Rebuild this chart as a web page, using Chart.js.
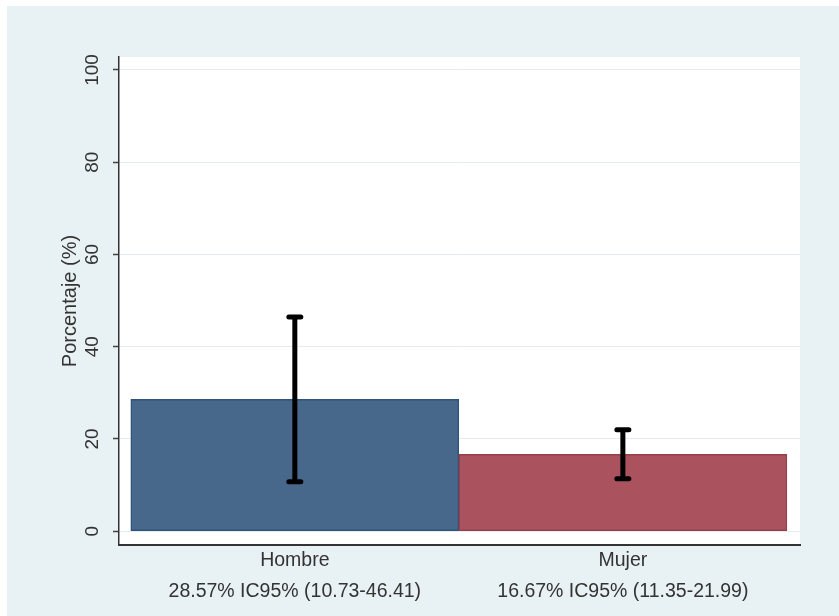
<!DOCTYPE html>
<html>
<head>
<meta charset="utf-8">
<script src="https://cdn.jsdelivr.net/npm/chart.js@4/dist/chart.umd.min.js"></script>
<style>
  html, body { margin: 0; padding: 0; background: #fff; }
  #panel { position: absolute; left: 7px; top: 6px; width: 832px; height: 610px; background: #e8f1f3; }
  canvas { display: block; }
</style>
</head>
<body>
<div id="panel"><canvas id="chart" width="832" height="610"></canvas></div>
<script>
// porcentaje por sexo con su intervalo de confianza al 95%
const categories = ['Hombre', 'Mujer']
const percent = [28.57, 16.67]
const ciLow = [10.73, 11.35]
const ciHigh = [46.41, 21.99]
const yTicks = [0, 20, 40, 60, 80, 100]

const barColors = ['#47678b', '#aa525e']
const barBorders = ['#2f5479', '#993f4c']
const textColor = '#333'

Chart.defaults.font.family = '"Liberation Sans", Arial, sans-serif'
Chart.defaults.color = textColor

const xPos = categories.map((c, i) => i + 0.5)

const statLabel = i => percent[i].toFixed(2) + '% IC95% (' + ciLow[i].toFixed(2) + '-' + ciHigh[i].toFixed(2) + ')'

const plotBackground = {
  id: 'plotBackground',
  beforeDraw(chart) {
    const {ctx, chartArea: a} = chart
    ctx.save()
    ctx.fillStyle = '#fff'
    ctx.fillRect(a.left, a.top, a.right - a.left, a.bottom - a.top)
    ctx.restore()
  }
}

// black error bars with rounded caps
const errorBars = {
  id: 'errorBars',
  afterDatasetsDraw(chart) {
    const {ctx, scales: {x, y}} = chart
    ctx.save()
    ctx.strokeStyle = '#000'
    ctx.lineWidth = 5
    ctx.lineCap = 'round'
    xPos.forEach((v, i) => {
      const px = x.getPixelForValue(v)
      const lo = y.getPixelForValue(ciLow[i])
      const hi = y.getPixelForValue(ciHigh[i])
      ctx.beginPath()
      ctx.moveTo(px, lo)
      ctx.lineTo(px, hi)
      ctx.moveTo(px - 6, lo)
      ctx.lineTo(px + 6, lo)
      ctx.moveTo(px - 6, hi)
      ctx.lineTo(px + 6, hi)
      ctx.stroke()
    })
    ctx.restore()
  }
}

// y tick labels turned to read upwards
const yLabels = {
  id: 'yLabels',
  afterDraw(chart) {
    const {ctx, scales: {y}} = chart
    ctx.save()
    ctx.font = '19px "Liberation Sans", Arial, sans-serif'
    ctx.fillStyle = textColor
    ctx.textAlign = 'center'
    ctx.textBaseline = 'middle'
    y.ticks.forEach(t => {
      ctx.save()
      ctx.translate(y.right - 26, y.getPixelForValue(t.value))
      ctx.rotate(-Math.PI / 2)
      ctx.fillText(String(t.value), 0, 0)
      ctx.restore()
    })
    ctx.restore()
  }
}

new Chart(document.getElementById('chart'), {
  type: 'bar',
  data: {
    datasets: [{
      data: xPos.map((v, i) => ({x: v, y: percent[i]})),
      backgroundColor: barColors,
      borderColor: barBorders,
      borderWidth: 1.5,
      borderSkipped: false,
      barPercentage: 1,
      categoryPercentage: 1
    }]
  },
  options: {
    responsive: false,
    animation: false,
    events: [],
    layout: {padding: {left: 0, right: 39, top: 51, bottom: 0}},
    plugins: {legend: {display: false}, tooltip: {enabled: false}},
    scales: {
      x: {
        type: 'linear',
        offset: false,
        min: -0.036,
        max: 2.04,
        afterBuildTicks: s => { s.ticks = xPos.map(v => ({value: v})) },
        afterFit: s => { s.height = 71 },
        grid: {display: false, drawTicks: false, offset: false},
        border: {display: true, color: '#333', width: 2},
        ticks: {
          padding: 1,
          maxRotation: 0,
          autoSkip: false,
          font: {size: 19.5, lineHeight: 1.55},
          color: textColor,
          callback: (v, i) => [categories[i], statLabel(i)]
        }
      },
      y: {
        min: -3,
        max: 102.8,
        afterBuildTicks: s => { s.ticks = yTicks.map(v => ({value: v})) },
        afterFit: s => { s.width = 112 },
        grid: {color: '#e3edf0', lineWidth: 1, tickLength: 6, tickColor: '#444', tickWidth: 1.5},
        border: {color: '#333', width: 1.5},
        ticks: {display: false},
        title: {
          display: true,
          text: 'Porcentaje (%)',
          font: {size: 20},
          color: textColor,
          padding: {top: 51}
        }
      }
    }
  },
  plugins: [plotBackground, errorBars, yLabels]
})
</script>
</body>
</html>
